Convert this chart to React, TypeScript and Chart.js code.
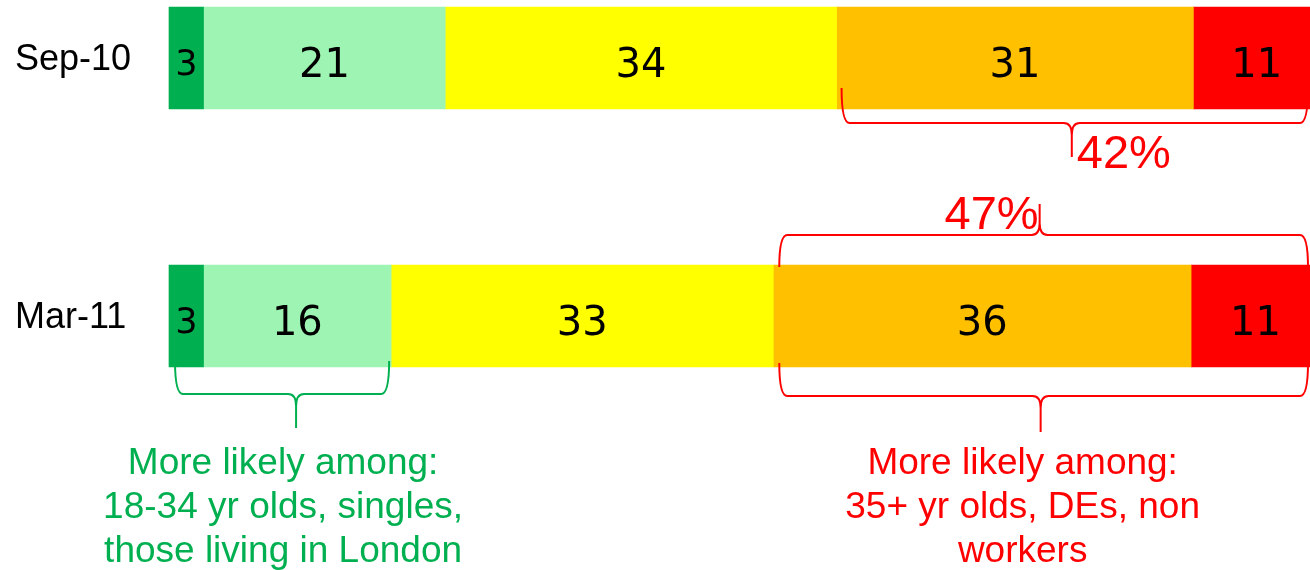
import React, { useEffect, useRef } from "react";
import { Chart, registerables } from "chart.js";

Chart.register(...registerables);

// ---- data ----
const categories = ["Sep-10", "Mar-11"];
const segmentNames = ["Very likely", "Fairly likely", "Neither", "Fairly unlikely", "Very unlikely"];
const veryLikely = [3, 3];
const fairlyLikely = [21, 16.3];
const neither = [34, 33.2];
const fairlyUnlikely = [31, 36.3];
const veryUnlikely = [11, 11.2];
const segmentColors = ["#00B050", "#9EF5B3", "#FFFF00", "#FFC000", "#FF0000"];
const unlikelyTotals = ["42%", "47%"];
const greenNote = ["More likely among:", "18-34 yr olds, singles,", "those living in London"];
const redNote = ["More likely among:", "35+ yr olds, DEs, non", "workers"];

const SANS = "'Liberation Sans', Arial, sans-serif";
const DEJAVU = "'DejaVu Sans', Verdana, sans-serif";
const RED = "#FF0000";
const GREEN = "#00B050";

function brace(
  ctx: CanvasRenderingContext2D,
  x1: number,
  x2: number,
  xm: number,
  yEnd: number,
  yLine: number,
  yTip: number,
  color: string
) {
  const r = 8;
  const d = Math.sign(yTip - yLine);
  ctx.save();
  ctx.strokeStyle = color;
  ctx.lineWidth = 2;
  ctx.lineJoin = "round";
  ctx.beginPath();
  ctx.moveTo(x1, yEnd);
  ctx.quadraticCurveTo(x1, yLine, x1 + r, yLine);
  ctx.lineTo(xm - r, yLine);
  ctx.quadraticCurveTo(xm, yLine, xm, yLine + d * r * 1.5);
  ctx.lineTo(xm, yTip);
  ctx.moveTo(x2, yEnd);
  ctx.quadraticCurveTo(x2, yLine, x2 - r, yLine);
  ctx.lineTo(xm + r, yLine);
  ctx.quadraticCurveTo(xm, yLine, xm, yLine + d * r * 1.5);
  ctx.stroke();
  ctx.restore();
}

const overlayPlugin = {
  id: "overlay",
  afterDatasetsDraw(chart: any) {
    const ctx: CanvasRenderingContext2D = chart.ctx;
    const xs = chart.scales.x;
    const ys = chart.scales.y;
    ctx.save();

    // value labels inside segments
    chart.data.datasets.forEach((ds: any, di: number) => {
      const meta = chart.getDatasetMeta(di);
      meta.data.forEach((el: any, i: number) => {
        const p = el.getProps(["x", "y", "base"], true);
        const v = ds.data[i] as number;
        const size = v < 5 ? 35 : 40;
        ctx.font = `${size}px ${DEJAVU}`;
        ctx.fillStyle = "#000";
        ctx.textAlign = "center";
        ctx.textBaseline = "alphabetic";
        ctx.fillText(String(Math.round(v)), (p.x + p.base) / 2, p.y + 4 + size * 0.365);
      });
    });

    // category labels
    ctx.font = `36px ${SANS}`;
    ctx.fillStyle = "#000";
    ctx.textAlign = "left";
    categories.forEach((c, i) => {
      ctx.fillText(c, 15, ys.getPixelForValue(i) + 12);
    });

    const ySep = ys.getPixelForValue(0);
    const yMar = ys.getPixelForValue(1);
    const greenEndSep = veryLikely[0] + fairlyLikely[0] + neither[0];
    const greenEndMar = veryLikely[1] + fairlyLikely[1] + neither[1];
    const xEnd = xs.getPixelForValue(100) - 12;

    // Sep-10 unlikely brace (below bar)
    const s1 = xs.getPixelForValue(greenEndSep) + 5;
    const m1 = (s1 + xEnd) / 2 - 3;
    brace(ctx, s1, xEnd, m1, ySep + 30, ySep + 65, ySep + 99, RED);
    ctx.fillStyle = RED;
    ctx.font = `47px ${SANS}`;
    ctx.textAlign = "left";
    ctx.fillText(unlikelyTotals[0], m1 + 5, ySep + 110);

    // Mar-11 unlikely brace (above bar)
    const s2 = xs.getPixelForValue(greenEndMar) + 6;
    const m2 = (s2 + xEnd) / 2 - 4;
    brace(ctx, s2, xEnd, m2, yMar - 49, yMar - 81, yMar - 112, RED);
    ctx.textAlign = "right";
    ctx.fillText(unlikelyTotals[1], m2 - 1, yMar - 87);

    // Mar-11 green brace (below bar)
    const g1 = xs.getPixelForValue(0) + 6;
    const g2 = xs.getPixelForValue(veryLikely[1] + fairlyLikely[1]) - 2;
    const gm = (g1 + g2) / 2 + 14;
    brace(ctx, g1, g2, gm, yMar + 45, yMar + 78, yMar + 112, GREEN);

    // Mar-11 red brace (below bar)
    const m3 = m2 + 1;
    brace(ctx, s2, xEnd, m3, yMar + 47, yMar + 80, yMar + 116, RED);

    // notes
    ctx.font = `37px ${SANS}`;
    ctx.textAlign = "center";
    ctx.fillStyle = GREEN;
    greenNote.forEach((t, i) => ctx.fillText(t, gm - 13, yMar + 158 + i * 44));
    ctx.fillStyle = RED;
    redNote.forEach((t, i) => ctx.fillText(t, m3 - 18, yMar + 158 + i * 44));

    ctx.restore();
  },
};

export default function App() {
  const ref = useRef<HTMLCanvasElement | null>(null);
  useEffect(() => {
    if (!ref.current) return;
    const series = [veryLikely, fairlyLikely, neither, fairlyUnlikely, veryUnlikely];
    const chart = new Chart(ref.current, {
      type: "bar",
      data: {
        labels: categories,
        datasets: series.map((d, i) => ({
          label: segmentNames[i],
          data: d,
          backgroundColor: segmentColors[i],
          borderWidth: 0,
          barThickness: 102,
          clip: false as any,
        })),
      },
      options: {
        indexAxis: "y",
        animation: false,
        responsive: true,
        maintainAspectRatio: false,
        layout: { padding: { left: 169, right: 0, top: 58, bottom: 254 } },
        plugins: { legend: { display: false }, tooltip: { enabled: false } },
        scales: {
          x: { stacked: true, min: 0, max: 100, display: false },
          y: { stacked: true, display: false, offset: false },
        },
      },
      plugins: [overlayPlugin],
    });
    return () => chart.destroy();
  }, []);
  return (
    <div style={{ position: "absolute", left: 0, top: 0, width: 1310, height: 570, overflow: "hidden", background: "#fff" }}>
      <div style={{ position: "relative", width: 1320, height: 570 }}>
        <canvas ref={ref} />
      </div>
    </div>
  );
}
